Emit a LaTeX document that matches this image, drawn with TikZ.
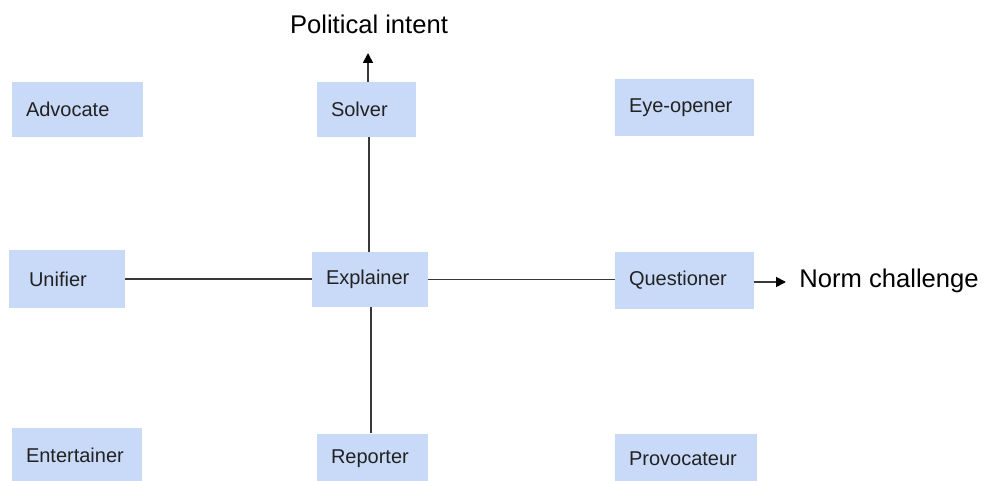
\documentclass[tikz,border=0pt]{standalone}
\usepackage{fontspec}
\setmainfont{Liberation Sans}
\usetikzlibrary{arrows.meta}
\definecolor{boxblue}{HTML}{C9DAF8}
\definecolor{linegray}{HTML}{383838}
\definecolor{txt}{HTML}{222222}
\begin{document}
\begin{tikzpicture}[x=0.5pt,y=-0.5pt,
  box/.style={fill=boxblue, draw=none, inner xsep=7pt, inner ysep=0pt, align=left,
    text=txt, font=\fontsize{10}{12}\selectfont},
  conn/.style={draw=linegray, line width=0.8pt},
  arr/.style={conn, -{Triangle[length=5pt,width=5pt,fill=black,color=black]}},
  axislabel/.style={font=\fontsize{12.8}{15}\selectfont, text=black, inner sep=0pt}]
\useasboundingbox (0,0) rectangle (989,481);
% boxes
\node[box, text width=51.5pt, minimum height=27.5pt] (adv) at (77.5,109.5) {Advocate};
\node[box, text width=35.5pt, minimum height=27.5pt] (sol) at (366.5,109.5) {Solver};
\node[box, text width=55.5pt, minimum height=28.5pt] (eye) at (684.5,107.5) {Eye-opener};
\node[box, inner xsep=10pt, text width=38pt, minimum height=29pt] (uni) at (67,279) {Unifier};
\node[box, text width=44pt, minimum height=27.5pt] (expl) at (370,279.5) {Explainer};
\node[box, text width=55.5pt, minimum height=28.5pt] (que) at (684.5,280.5) {Questioner};
\node[box, text width=51pt, minimum height=27pt] (ent) at (77,455) {Entertainer};
\node[box, text width=41.5pt, minimum height=25pt] (rep) at (372.5,458.5) {Reporter};
\node[box, text width=57pt, minimum height=25pt] (pro) at (686,458.5) {Provocateur};
% axis labels
\node[axislabel] (pol) at (369,24) {Political intent};
\node[axislabel, anchor=west] (norm) at (799,281) {Norm challenge};
\coordinate (poltip) at (368,53);
\coordinate (normtip) at (786,282);
% connectors
\draw[conn] (expl.north -| 369,0) -- (sol.south -| 369,0);
\draw[conn] (expl.south -| 371,0) -- (rep.north -| 371,0);
\draw[conn] (uni.east) -- (expl.west |- uni.east);
\draw[conn] (expl.east) -- (que.west |- expl.east);
\draw[arr] (sol.north -| poltip) -- (poltip);
\draw[arr] (que.east |- normtip) -- (normtip);
\end{tikzpicture}
\end{document}
